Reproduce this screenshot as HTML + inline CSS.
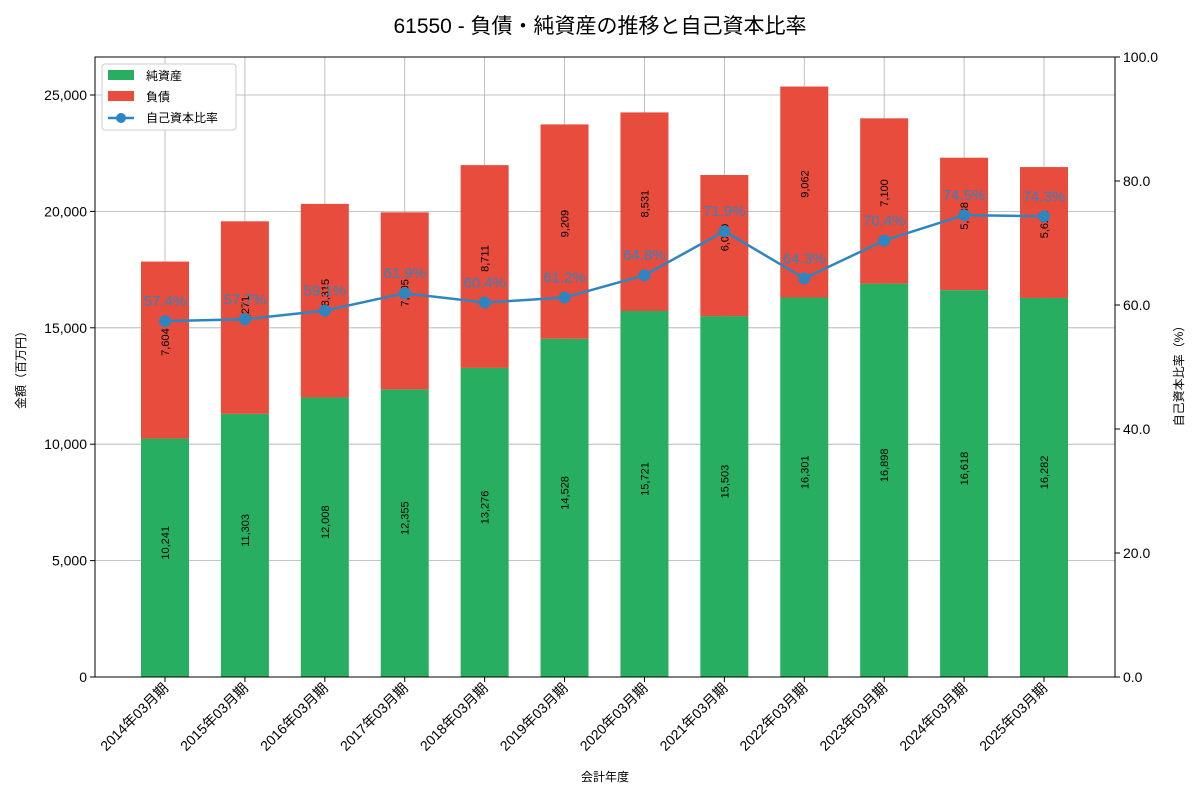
<!DOCTYPE html>
<html><head><meta charset="utf-8"><style>
body{margin:0;background:#fff;}
svg{font-family:"Liberation Sans","Noto Sans CJK JP",sans-serif;}
</style></head><body>
<svg id="c" width="1200" height="800" xmlns="http://www.w3.org/2000/svg">
<text x="600" y="33" text-anchor="middle" font-size="21">61550 - 負債・純資産の推移と自己資本比率</text>
<g id="grid"></g><g id="bars"></g><g id="line"></g><g id="axes"></g>
<g>
<rect x="102" y="64" width="134" height="66" fill="#fff" stroke="#ccc" rx="3"/>
<rect x="108" y="70" width="26" height="10" fill="#27ae60"/>
<text x="146" y="80" font-size="12">純資産</text>
<rect x="108" y="91" width="26" height="10" fill="#e74c3c"/>
<text x="146" y="101" font-size="12">負債</text>
<line x1="108" y1="118" x2="134" y2="118" stroke="#2e86c1" stroke-width="2.5"/>
<circle cx="121" cy="118" r="5" fill="#2e86c1"/>
<text x="146" y="122" font-size="12">自己資本比率</text>
</g>
<text x="605" y="781" text-anchor="middle" font-size="12">会計年度</text>
<text transform="translate(25,367) rotate(-90)" text-anchor="middle" font-size="12">金額（百万円）</text>
<text transform="translate(1183,373) rotate(-90)" text-anchor="middle" font-size="12">自己資本比率（%）</text>
</svg>
<script>
const categories=["2014年03月期","2015年03月期","2016年03月期","2017年03月期","2018年03月期","2019年03月期","2020年03月期","2021年03月期","2022年03月期","2023年03月期","2024年03月期","2025年03月期"];
const netAssets=[10241,11303,12008,12355,13276,14528,15721,15503,16301,16898,16618,16282];
const debt=[7604,8271,8315,7605,8711,9209,8531,6060,9062,7100,5688,5622];
const ratio=[57.4,57.7,59.1,61.9,60.4,61.2,64.8,71.9,64.3,70.4,74.5,74.3];
const yTicks=[0,5000,10000,15000,20000,25000];
const y2Ticks=[0,20,40,60,80,100];
const NS="http://www.w3.org/2000/svg";
const L=95,R=1115,T=57,B=677,YMAX=26632;
const y=v=>B-(B-T)*v/YMAX, y2=v=>B-(B-T)*v/100;
const n=categories.length, x0=165, x1=1044;
const xc=i=>x0+(x1-x0)*i/(n-1), bw=48;
function mk(p,tag,a,txt){const e=document.createElementNS(NS,tag);for(const k in a)e.setAttribute(k,a[k]);if(txt!=null)e.textContent=txt;document.getElementById(p).appendChild(e);return e;}
const fmt=v=>v.toLocaleString("en-US");
yTicks.forEach(v=>{mk("grid","line",{x1:L,x2:R,y1:y(v),y2:y(v),stroke:"#b0b0b0","stroke-width":0.8});
const t=mk("axes","text",{x:L-8,y:y(v)+5,"text-anchor":"end","font-size":14},fmt(v));

});
y2Ticks.forEach(v=>{const t=mk("axes","text",{x:R+8,y:y2(v)+5,"font-size":14},v.toFixed(1));

});
categories.forEach((c,i)=>{const x=xc(i);
mk("grid","line",{x1:x,x2:x,y1:T,y2:B,stroke:"#b0b0b0","stroke-width":0.8});
const g=mk("bars","rect",{x:x-bw/2,y:y(netAssets[i]),width:bw,height:B-y(netAssets[i]),fill:"#27ae60"});


const top=netAssets[i]+debt[i];
const r=mk("bars","rect",{x:x-bw/2,y:y(top),width:bw,height:y(netAssets[i])-y(top),fill:"#e74c3c"});


const gy=(y(0)+y(netAssets[i]))/2-15, ry=(y(netAssets[i])+y(top))/2-8;
const l1=mk("bars","text",{transform:`translate(${x+4},${gy}) rotate(-90)`,"text-anchor":"middle","font-size":11},fmt(netAssets[i]));


const l2=mk("bars","text",{transform:`translate(${x+4},${ry}) rotate(-90)`,"text-anchor":"middle","font-size":11},fmt(debt[i]));


mk("axes","line",{x1:x,x2:x,y1:B,y2:B+5,stroke:"#000"});
const t=mk("axes","text",{transform:`translate(${x+4},${B+12}) rotate(-45)`,"text-anchor":"end","font-size":14},c);

});
const pl=mk("line","polyline",{points:ratio.map((v,i)=>xc(i)+","+y2(v)).join(" "),fill:"none",stroke:"#2e86c1","stroke-width":2.5});


ratio.forEach((v,i)=>{const c=mk("line","circle",{cx:xc(i),cy:y2(v),r:6,fill:"#2e86c1"});


const t=mk("line","text",{x:xc(i),y:y2(v)-15,"text-anchor":"middle","font-size":15,fill:"#2e86c1"},v.toFixed(1)+"%");

});
mk("axes","rect",{x:L,y:T,width:R-L,height:B-T,fill:"none",stroke:"#000","stroke-width":1});
yTicks.forEach(v=>mk("axes","line",{x1:L-5,x2:L,y1:y(v),y2:y(v),stroke:"#000"}));
y2Ticks.forEach(v=>mk("axes","line",{x1:R,x2:R+5,y1:y2(v),y2:y2(v),stroke:"#000"}));
</script>
</body></html>
